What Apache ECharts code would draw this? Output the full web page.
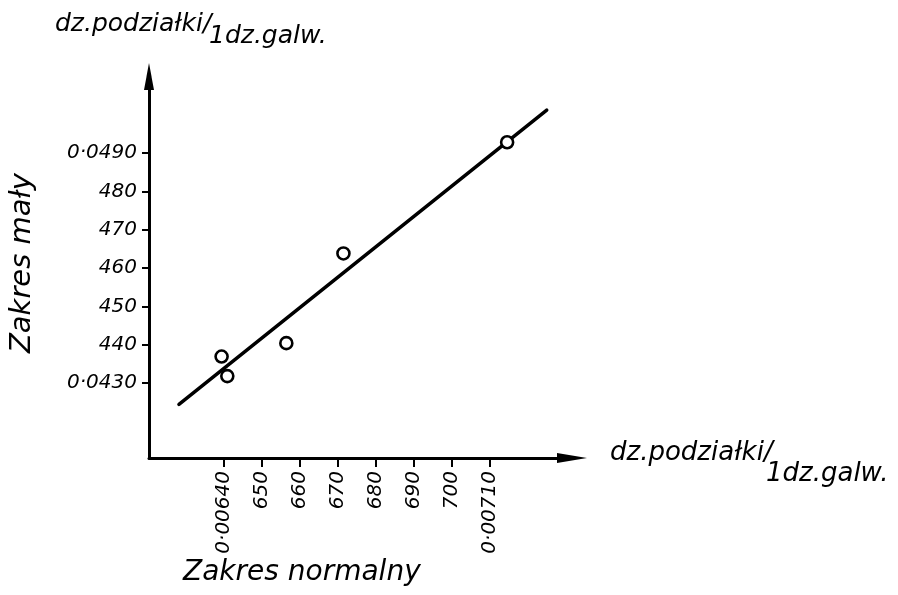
<!DOCTYPE html>
<html>
<head>
<meta charset="utf-8">
<script src="https://cdn.jsdelivr.net/npm/echarts@6/dist/echarts.min.js"></script>
<style>
html,body{margin:0;padding:0;background:#fff;}
#chart{width:898px;height:595px;}
</style>
</head>
<body>
<div id="chart"></div>
<script>
// measured points (Zakres normalny, Zakres mały)
const xValues = [0.006395, 0.00641, 0.006565, 0.006715, 0.007145];
const yValues = [0.04369, 0.04318, 0.04404, 0.04638, 0.04928];
// fitted straight line end points
const fitX = [0.006283, 0.007249];
const fitY = [0.04244, 0.05012];
// tick labels
const xTickLabels = ['0·00640', '650', '660', '670', '680', '690', '700', '0·00710'];
const yTickLabels = ['0·0430', '440', '450', '460', '470', '480', '0·0490'];
const xMin = 0.0064, xMax = 0.0071, xStep = 0.0001;
const yMin = 0.043, yMax = 0.049, yStep = 0.001;

const FONT = 'DejaVu Sans';
const ink = '#000';

// layout (pixels)
const axL = 149, axB = 458, axR = 572, axT = 76.5;        // full arrowed axes
const tkL = 223.5, tkR = 490, tkT = 153, tkB = 383;       // labelled tick span

// extend the value range of the labelled span to the full arrowed axes
const xPer = (xMax - xMin) / (tkR - tkL);
const yPer = (yMax - yMin) / (tkB - tkT);
const fullXMin = xMin - (tkL - axL) * xPer;
const fullXMax = xMax + (axR - tkR) * xPer;
const fullYMin = yMin - (axB - tkB) * yPer;
const fullYMax = yMax + (tkT - axT) * yPer;

const chart = echarts.init(document.getElementById('chart'), null, {renderer: 'canvas'});

const scatterData = xValues.map((x, i) => [x, yValues[i]]);
const lineData = fitX.map((x, i) => [x, fitY[i]]);

chart.setOption({
  animation: false,
  backgroundColor: '#fff',
  grid: [
    {left: axL, top: axT, width: axR - axL, height: axB - axT},
    {left: tkL, top: tkT, width: tkR - tkL, height: tkB - tkT}
  ],
  xAxis: [
    {
      type: 'value', gridIndex: 0, min: fullXMin, max: fullXMax,
      axisTick: {show: false}, axisLabel: {show: false}, splitLine: {show: false},
      axisLine: {show: true, symbol: ['none', 'triangle'], symbolSize: [10, 30],
        lineStyle: {color: ink, width: 3}}
    },
    {
      type: 'value', gridIndex: 1, min: xMin, max: xMax, interval: xStep,
      offset: axB - tkB,
      axisLine: {show: false},
      axisTick: {show: true, length: 9, lineStyle: {color: ink, width: 2}},
      splitLine: {show: false},
      axisLabel: {
        rotate: 90, margin: 13, color: ink,
        fontFamily: FONT, fontStyle: 'italic', fontSize: 20,
        formatter: v => xTickLabels[Math.round((v - xMin) / xStep)] || ''
      }
    }
  ],
  yAxis: [
    {
      type: 'value', gridIndex: 0, min: fullYMin, max: fullYMax,
      axisTick: {show: false}, axisLabel: {show: false}, splitLine: {show: false},
      axisLine: {show: true, symbol: ['none', 'triangle'], symbolSize: [10, 27],
        lineStyle: {color: ink, width: 3}}
    },
    {
      type: 'value', gridIndex: 1, min: yMin, max: yMax, interval: yStep,
      offset: tkL - axL,
      axisLine: {show: false},
      axisTick: {show: true, length: 7, lineStyle: {color: ink, width: 2}},
      splitLine: {show: false},
      axisLabel: {
        margin: 12, color: ink,
        fontFamily: FONT, fontStyle: 'italic', fontSize: 20,
        formatter: v => yTickLabels[Math.round((v - yMin) / yStep)] || ''
      }
    }
  ],
  series: [
    {
      type: 'line', xAxisIndex: 0, yAxisIndex: 0, data: lineData,
      symbol: 'none', z: 2,
      lineStyle: {color: ink, width: 3.5, cap: 'round'}
    },
    {
      type: 'scatter', xAxisIndex: 0, yAxisIndex: 0, data: scatterData,
      symbol: 'circle', symbolSize: 12, z: 3,
      itemStyle: {color: '#fff', borderColor: ink, borderWidth: 2.6, opacity: 1}
    }
  ],
  graphic: [
    {type: 'text', style: {text: 'dz.podziałki/', x: 55, y: 12, fill: ink,
      font: 'italic 25px "DejaVu Sans"', align: 'left', verticalAlign: 'top'}},
    {type: 'text', style: {text: '1dz.galw.', x: 209, y: 24, fill: ink,
      font: 'italic 25px "DejaVu Sans"', align: 'left', verticalAlign: 'top'}},
    {type: 'text', style: {text: 'dz.podziałki/', x: 610, y: 440, fill: ink,
      font: 'italic 26px "DejaVu Sans"', align: 'left', verticalAlign: 'top'}},
    {type: 'text', style: {text: '1dz.galw.', x: 766, y: 461, fill: ink,
      font: 'italic 26px "DejaVu Sans"', align: 'left', verticalAlign: 'top'}},
    {type: 'text', x: 22, y: 263, rotation: Math.PI / 2,
      style: {text: 'Zakres mały', x: 0, y: 0, fill: ink,
      font: 'italic 29px "DejaVu Sans"', align: 'center', verticalAlign: 'middle'}},
    {type: 'text', style: {text: 'Zakres normalny', x: 183, y: 559, fill: ink,
      font: 'italic 28px "DejaVu Sans"', align: 'left', verticalAlign: 'top'}}
  ]
});
</script>
</body>
</html>
